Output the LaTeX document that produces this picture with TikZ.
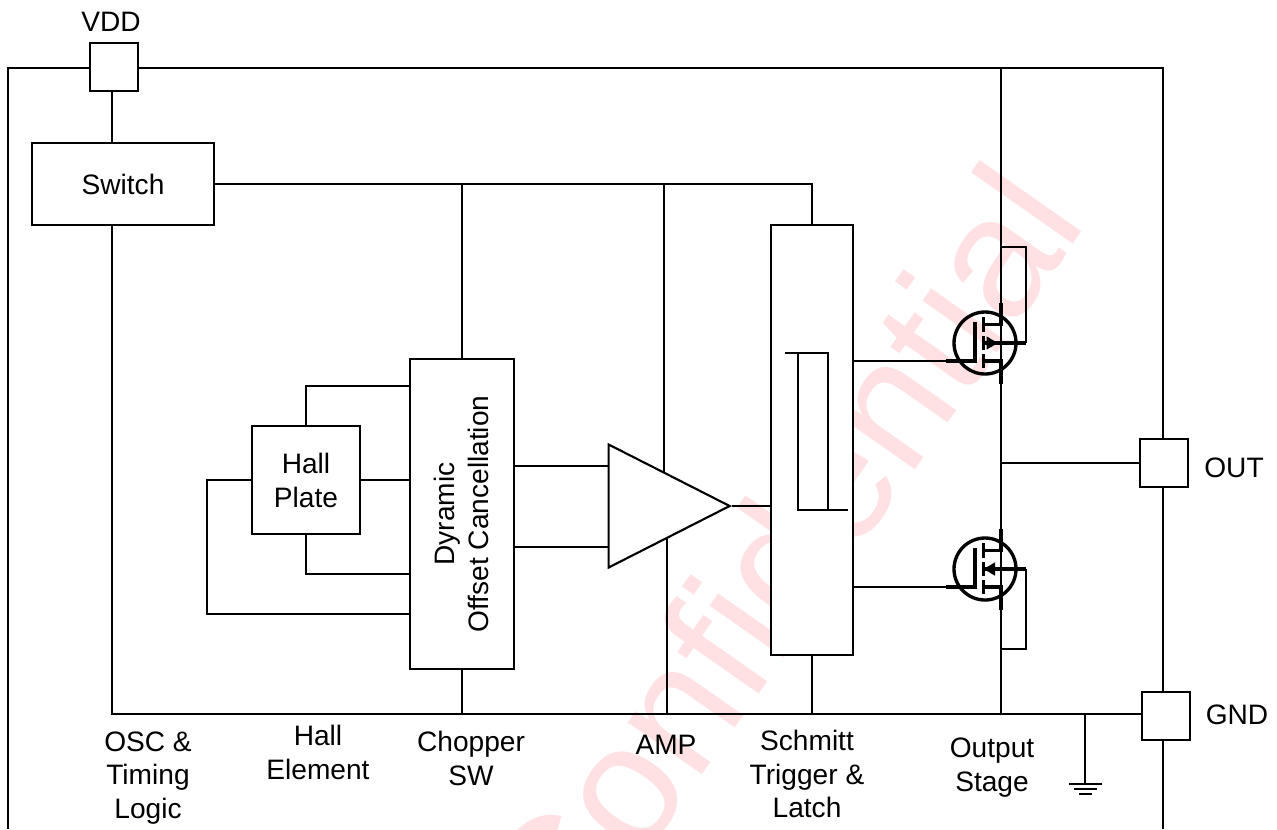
\documentclass[tikz,border=0pt]{standalone}
\usepackage{fontspec}
\setmainfont{Liberation Sans}
\usepackage{tikz}
\usetikzlibrary{shapes.geometric, arrows.meta, positioning}
\definecolor{stamp}{HTML}{FFE1E3}
\tikzset{
  box/.style={draw, line width=1.2pt, fill=white, inner sep=0pt, align=center, font=\fontsize{16}{19.3}\selectfont},
  pad/.style={box, minimum width=48*0.02cm, minimum height=48*0.02cm},
  lbl/.style={inner sep=0pt, align=center, font=\fontsize{16}{19.3}\selectfont},
  wire/.style={line width=1.2pt},
  fat/.style={line width=1.9pt},
  tip/.style={line width=1.9pt, -{Triangle[length=2.3mm, width=2.5mm]}},
  mos/.pic={
    \draw[line width=1.9pt] (0,0) circle (31);
    \draw[fat] (16,-40) -- (16,-18.5) -- (-1.5,-18.5);
    \draw[fat] (16,41) -- (16,18) -- (-1.5,18);
    \draw[fat] (-10,-21) -- (-10,18) -- (-39,18);
    \draw[fat] (-1.5,-26) -- (-1.5,-11) (-1.5,-7) -- (-1.5,7) (-1.5,11) -- (-1.5,25);
    \draw[fat] (-1.5,0) -- (41,0);
    \coordinate (-gate) at (-39,18);
    \coordinate (-ch) at (-1.5,0);
    \coordinate (-body) at (41,0);
  },
}
\begin{document}
\begin{tikzpicture}[x=0.02cm, y=-0.02cm]
  \useasboundingbox (0,0) rectangle (1277,829);
  \begin{scope}
    \clip (0,0) rectangle (1277,829);
    \node[anchor=base east, rotate=55, inner sep=0pt, text=stamp, font=\fontsize{97.5}{97.5}\selectfont] (stampmark) at (1089,222) {Confidential};
  \end{scope}
  \node[pad] (vdd) at (114,67) {};
  \node[pad] (out) at (1164,463) {};
  \node[pad] (gnd) at (1166,716) {};
  \node[box, minimum width=182*0.02cm, minimum height=82*0.02cm] (switch) at (123,184) {Switch};
  \node[box, minimum width=104*0.02cm, minimum height=310*0.02cm] (dyn) at (462,514) {};
  \node[lbl, rotate=90] (dyntext) at (461,514) {Dyramic\\Offset Cancellation};
  \node[box, minimum width=108*0.02cm, minimum height=108*0.02cm] (hall) at (306,480) {Hall\\Plate};
  \node[box, minimum width=82*0.02cm, minimum height=430*0.02cm] (schmitt) at (812,440) {};
  \node[draw, fill=white, line width=1.2pt, isosceles triangle, isosceles triangle apex angle=53, isosceles triangle stretches, inner sep=0pt, minimum width=123*0.02cm, minimum height=121*0.02cm, anchor=apex] (amp) at (732,506) {};

  \coordinate (railL) at (8,68);
  \coordinate (railR) at (1163,68);
  \coordinate (rail) at (1001,68);
  \coordinate (base) at (112,714);
  \coordinate (gndnode) at (1085,784);
  \pic (q1) at (985,343) {mos};
  \pic (q2) at (985,569) {mos};

  \draw[wire] (railL |- 0,829) -- (railL) -- (vdd.west |- railL);
  \draw[wire] (vdd.east |- railR) -- (railR) -- (out.north -| railR);
  \draw[wire] (out.south -| railR) -- (gnd.north -| railR);
  \draw[wire] (gnd.south -| railR) -- (railR |- 0,829);
  \draw[wire] (vdd.south -| 112,0) -- (switch.north -| 112,0);
  \draw[wire] (switch.south -| base) -- (base) -- (gnd.west |- base);
  \draw[wire] (switch.east) -| (schmitt.north);
  \draw[wire] (dyn.north) -- (dyn.north |- switch.east);
  \draw[wire] (664,184) -- (664,472);
  \draw[wire] (667,539) -- (667,714);
  \draw[wire] (dyn.south) -- (dyn.south |- base);
  \draw[wire] (schmitt.south) -- (schmitt.south |- base);
  \draw[wire] (hall.north) |- (dyn.west |- 0,386);
  \draw[wire] (hall.east) -- (dyn.west |- hall.east);
  \draw[wire] (hall.south) |- (dyn.west |- 0,574);
  \draw[wire] (hall.west) -| (207,614) -- (dyn.west |- 0,614);
  \draw[wire] (dyn.east |- 0,466) -- (amp.west |- 0,466);
  \draw[wire] (dyn.east |- 0,547) -- (amp.west |- 0,547);
  \draw[wire] (amp.apex) -- (schmitt.west |- amp.apex);
  \draw[wire] (785,353) -- (828,353) -- (828,510);
  \draw[wire] (798,353) -- (798,510) -- (848,510);
  \draw[wire] (schmitt.east |- q1-gate) -- (q1-gate);
  \draw[wire] (schmitt.east |- q2-gate) -- (q2-gate);
  \draw[wire] (rail) -- (rail |- base);
  \draw[wire] (rail |- out.west) -- (out.west);
  \draw[wire] (rail |- 0,247) -| (q1-body);
  \draw[wire] (rail |- 0,649) -| (q2-body);
  \draw[tip] (q1-ch) -- (998,343);
  \draw[tip] (1012,569) -- (q2-ch);
  \draw[wire] (gndnode |- base) -- (gndnode);
  \draw[wire] (1069,784) -- (1102,784) (1074,789) -- (1097,789) (1079,794) -- (1092,794);

  \node[lbl] (vddtext) at (111,22) {VDD};
  \node[lbl] (outtext) at (1234,468) {OUT};
  \node[lbl] (gndtext) at (1237,715) {GND};
  \node[lbl] (osctext) at (148,778) {OSC \&\\Timing\\Logic};
  \node[lbl] (halltext) at (318,752) {Hall\\Element};
  \node[lbl] (choptext) at (471,758) {Chopper\\SW};
  \node[lbl] (amptext) at (666,745) {AMP};
  \node[lbl] (schmitttext) at (807,774) {Schmitt\\Trigger \&\\Latch};
  \node[lbl] (outputtext) at (992,768) {Output\\Stage};
\end{tikzpicture}
\end{document}
